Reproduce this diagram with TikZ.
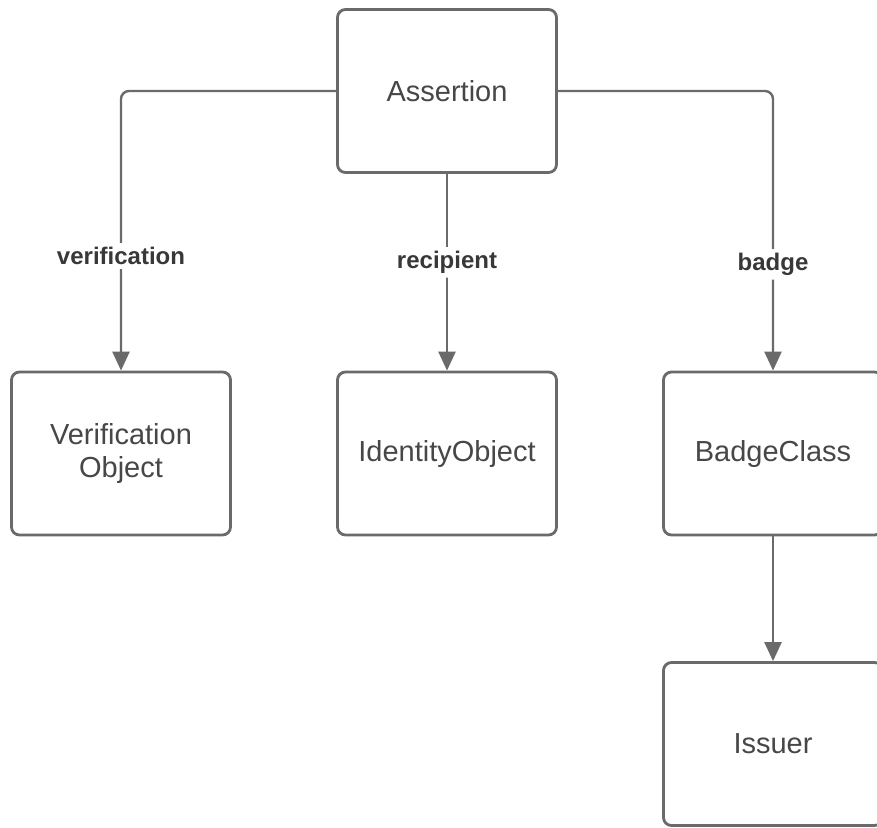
\documentclass[tikz,border=0pt]{standalone}
\usepackage{fontspec}
\setmainfont{Liberation Sans}
\usetikzlibrary{arrows.meta}
\definecolor{linegray}{HTML}{6A6A6A}
\definecolor{txtgray}{HTML}{474747}
\definecolor{lblgray}{HTML}{383838}
\tikzset{
  box/.style={draw=linegray, line width=2.8pt, rounded corners=8pt, fill=white,
    minimum width=219pt, minimum height=163pt, inner sep=0pt, align=center,
    text=txtgray, font=\fontsize{29}{33}\selectfont},
  conn/.style={draw=linegray, line width=2.4pt, rounded corners=8pt,
    -{Triangle[width=17pt,length=19pt]}},
  lbl/.style={fill=white, text=lblgray, inner sep=4pt,
    font=\fontsize{24}{28}\selectfont\bfseries}
}
\begin{document}
\begin{tikzpicture}[x=1pt,y=-1pt]
\useasboundingbox (0,0) rectangle (877,827);
\fill[white] (0,0) rectangle (877,827);
\node[box] (A) at (447,91) {Assertion};
\node[box] (V) at (121,453.5) {Verification\\Object};
\node[box] (I) at (447,453.5) {IdentityObject};
\node[box] (B) at (773,453.5) {BadgeClass};
\node[box] (S) at (773,744) {Issuer};
\draw[conn] (A.west) -| node[lbl, pos=0.795] (lv) {verification} (V.north);
\draw[conn] (A.south) -- node[lbl, pos=0.45] (lr) {recipient} (I.north);
\draw[conn] (A.east) -| node[lbl, pos=0.81] (lb) {badge} (B.north);
\draw[conn] (B.south) -- (S.north);
\end{tikzpicture}
\end{document}
